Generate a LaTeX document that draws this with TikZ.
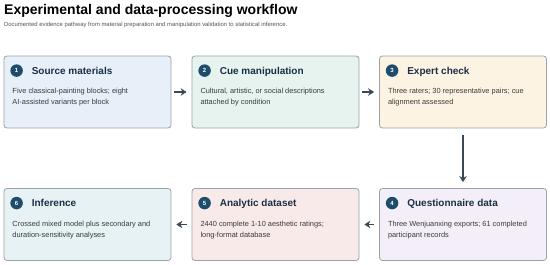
\documentclass[tikz,border=0pt]{standalone}
\usepackage{fontspec}
\setmainfont{Liberation Sans}
\usetikzlibrary{arrows.meta,calc}
\definecolor{bordergray}{HTML}{9AA3A8}
\definecolor{navy}{HTML}{1B2F45}
\definecolor{numblue}{HTML}{1D4D6B}
\definecolor{bodytext}{HTML}{3A3A3A}
\definecolor{subtext}{HTML}{555555}
\definecolor{arrowcol}{HTML}{3A4955}
\definecolor{fillA}{HTML}{E7EFF9}
\definecolor{fillB}{HTML}{E6F3EE}
\definecolor{fillC}{HTML}{FDF3E2}
\definecolor{fillD}{HTML}{F3EEF8}
\definecolor{fillE}{HTML}{F9EAEA}
\definecolor{fillF}{HTML}{E6F2F3}
\tikzset{
  box/.style={draw=bordergray, line width=0.8pt, rounded corners=3pt,
    minimum width=167pt, minimum height=72pt, inner sep=0pt},
  num/.style={circle, fill=numblue, text=white, inner sep=0pt,
    minimum size=12.5pt, font=\fontsize{6}{7}\selectfont\bfseries},
  boxtitle/.style={anchor=base west, inner sep=0pt, text=navy,
    font=\fontsize{10}{12}\selectfont\bfseries},
  boxbody/.style={anchor=north west, inner sep=0pt, text=bodytext, align=left,
    font=\fontsize{7.4}{11}\selectfont},
  flow/.style={draw=arrowcol, line width=1.8pt, -{Stealth[length=6pt,width=7.5pt]}}
}
\begin{document}
\begin{tikzpicture}[x=1pt,y=-1pt]
\useasboundingbox[fill=white] (0,0) rectangle (550,265);
\node[anchor=base west, inner sep=0pt, font=\fontsize{14}{16}\selectfont\bfseries, text=black] (title) at (4,15) {Experimental and data-processing workflow};
\node[anchor=base west, inner sep=0pt, font=\fontsize{5.9}{7}\selectfont, text=subtext] (subtitle) at (4,27) {Documented evidence pathway from material preparation and manipulation validation to statistical inference.};

\node[box, fill=fillA] (b1) at (87.5,92) {};
\node[box, fill=fillB] (b2) at (275.5,92) {};
\node[box, fill=fillC] (b3) at (463,92) {};
\node[box, fill=fillD] (b4) at (463,224.5) {};
\node[box, fill=fillE] (b5) at (275.5,224.5) {};
\node[box, fill=fillF] (b6) at (87.5,224.5) {};

\foreach \b/\n/\t/\body in {
  b1/1/Source materials/{Five classical-painting blocks; eight\\AI-assisted variants per block},
  b2/2/Cue manipulation/{Cultural, artistic, or social descriptions\\attached by condition},
  b3/3/Expert check/{Three raters; 30 representative pairs; cue\\alignment assessed},
  b4/4/Questionnaire data/{Three Wenjuanxing exports; 61 completed\\participant records},
  b5/5/Analytic dataset/{2440 complete 1-10 aesthetic ratings;\\long-format database},
  b6/6/Inference/{Crossed mixed model plus secondary and\\duration-sensitivity analyses}}{
  \node[num] (\b n) at ($(\b.north west)+(13,15)$) {\n};
  \node[boxtitle] (\b t) at ($(\b.north west)+(28,18.5)$) {\t};
  \node[boxbody] (\b d) at ($(\b.north west)+(8.7,32.5)$) {\body};
}

\draw[flow, shorten <=3pt, shorten >=5pt] (b1) -- (b2);
\draw[flow, shorten <=3pt, shorten >=5pt] (b2) -- (b3);
\draw[flow, shorten <=7pt, shorten >=6pt] (b3) -- (b4);
\draw[flow, shorten <=5pt, shorten >=5pt] (b4) -- (b5);
\draw[flow, shorten <=5pt, shorten >=5pt] (b5) -- (b6);
\end{tikzpicture}
\end{document}
